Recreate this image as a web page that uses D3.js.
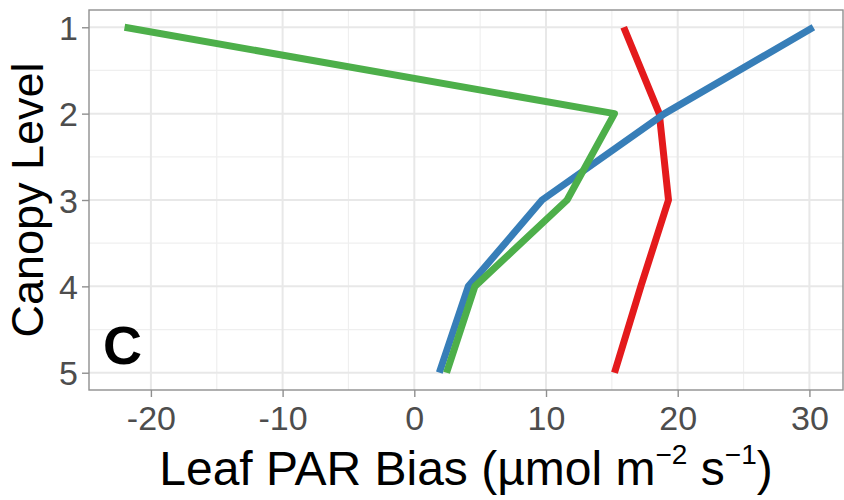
<!DOCTYPE html>
<html>
<head>
<meta charset="utf-8">
<script src="https://cdn.jsdelivr.net/npm/d3@7"></script>
<style>
  body { margin: 0; background: #fff; }
  text { font-family: "Liberation Sans", Arial, Helvetica, sans-serif; }
</style>
</head>
<body>
<div class="chart"></div>
<script>
const width = 844;
const height = 500;
const margin = { top: 10, right: 1, bottom: 110, left: 89 };

// canopy levels (y) and leaf PAR bias per model (x)
const levels = [1, 2, 3, 4, 5];
const greenBias = [-22.0, 15.2, 11.6, 4.6, 2.45];
const blueBias = [30.3, 19.0, 9.7, 4.1, 1.9];
const redBias = [15.9, 18.6, 19.3, 17.2, 15.2];
const xTicks = [-20, -10, 0, 10, 20, 30];
const xMinor = [-15, -5, 5, 15, 25];
const yMinor = [1.5, 2.5, 3.5, 4.5];
const panelLabel = "C";

const series = [
   { name: "red", color: "#E41A1C", values: redBias },
   { name: "blue", color: "#377EB8", values: blueBias },
   { name: "green", color: "#4DAF4A", values: greenBias }
];

const svg = d3
   .select(".chart")
   .append("svg")
   .attr("width", width)
   .attr("height", height);

const x = d3.scaleLinear().domain([-24.7, 32.55]).range([margin.left, width - margin.right]);
const y = d3.scaleLinear().domain([0.8, 5.2]).range([margin.top, height - margin.bottom]);

const panelW = width - margin.left - margin.right;
const panelH = height - margin.top - margin.bottom;

// grid
const grid = svg.append("g");
grid.selectAll(".xminor").data(xMinor).enter().append("line")
   .attr("x1", (d) => x(d)).attr("x2", (d) => x(d))
   .attr("y1", margin.top).attr("y2", height - margin.bottom)
   .attr("stroke", "#efefef").attr("stroke-width", 1.2);
grid.selectAll(".yminor").data(yMinor).enter().append("line")
   .attr("y1", (d) => y(d)).attr("y2", (d) => y(d))
   .attr("x1", margin.left).attr("x2", width - margin.right)
   .attr("stroke", "#efefef").attr("stroke-width", 1.2);
grid.selectAll(".xmajor").data(xTicks).enter().append("line")
   .attr("x1", (d) => x(d)).attr("x2", (d) => x(d))
   .attr("y1", margin.top).attr("y2", height - margin.bottom)
   .attr("stroke", "#e8e8e8").attr("stroke-width", 2);
grid.selectAll(".ymajor").data(levels).enter().append("line")
   .attr("y1", (d) => y(d)).attr("y2", (d) => y(d))
   .attr("x1", margin.left).attr("x2", width - margin.right)
   .attr("stroke", "#e8e8e8").attr("stroke-width", 2);

// lines
const line = d3.line()
   .x((d) => x(d[0]))
   .y((d) => y(d[1]));

svg.selectAll(".series").data(series).enter().append("path")
   .attr("d", (s) => line(s.values.map((v, i) => [v, levels[i]])))
   .attr("fill", "none")
   .attr("stroke", (s) => s.color)
   .attr("stroke-width", 7)
   .attr("stroke-linejoin", "round");

// panel border
svg.append("rect")
   .attr("x", margin.left).attr("y", margin.top)
   .attr("width", panelW).attr("height", panelH)
   .attr("fill", "none").attr("stroke", "#8f8f8f").attr("stroke-width", 1.4);

// axes
const xAxis = svg.append("g")
   .attr("transform", `translate(0, ${height - margin.bottom})`)
   .call(d3.axisBottom(x).tickValues(xTicks).tickSize(7).tickPadding(9).tickFormat(d3.format("d")));
const yAxis = svg.append("g")
   .attr("transform", `translate(${margin.left}, 0)`)
   .call(d3.axisLeft(y).tickValues(levels).tickSize(7).tickPadding(4).tickFormat(d3.format("d")));

[xAxis, yAxis].forEach((ax) => {
   ax.select(".domain").remove();
   ax.selectAll(".tick line").attr("stroke", "#8f8f8f").attr("stroke-width", 1.4);
   ax.selectAll(".tick text")
      .attr("fill", "#4d4d4d")
      .style("font-size", "34px")
      .style("font-family", '"Liberation Sans", Arial, sans-serif');
});
xAxis.selectAll(".tick text").attr("dy", "0.71em").text((d) => d < 0 ? "-" + Math.abs(d) : d);
yAxis.selectAll(".tick text").attr("dy", "0.36em");

// axis titles
const xTitle = svg.append("text")
   .attr("x", margin.left + panelW / 2)
   .attr("y", 485)
   .attr("text-anchor", "middle")
   .style("font-size", "48px")
   .attr("fill", "#000");
xTitle.append("tspan").text("Leaf PAR Bias (\u00b5mol m");
xTitle.append("tspan").attr("dy", -21).style("font-size", "28px").text("\u22122");
xTitle.append("tspan").attr("dy", 21).text(" s");
xTitle.append("tspan").attr("dy", -21).style("font-size", "28px").text("\u22121");
xTitle.append("tspan").attr("dy", 21).text(")");

svg.append("text")
   .attr("transform", `translate(43, ${margin.top + panelH / 2}) rotate(-90)`)
   .attr("text-anchor", "middle")
   .style("font-size", "45px")
   .attr("fill", "#000")
   .text("Canopy Level");

// panel label
svg.append("text")
   .attr("x", 103)
   .attr("y", 364)
   .style("font-size", "54px")
   .style("font-weight", "bold")
   .attr("fill", "#000")
   .text(panelLabel);
</script>
</body>
</html>
